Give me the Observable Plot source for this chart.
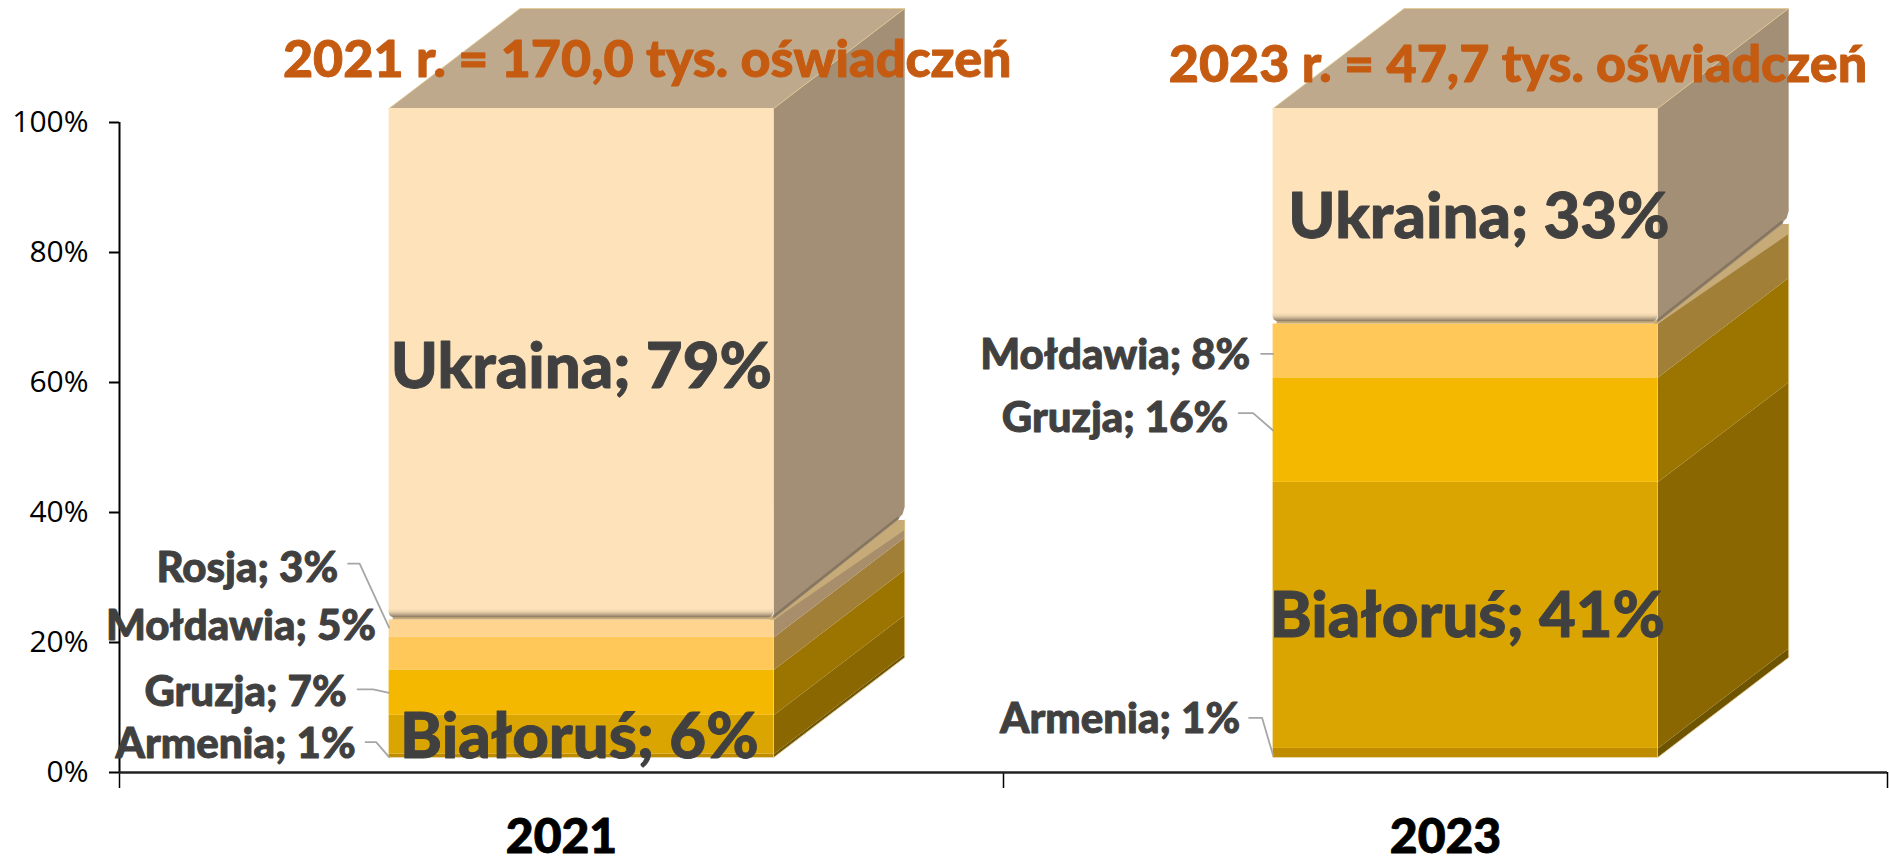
<!DOCTYPE html>
<html><head><meta charset="utf-8">
<style>html,body{margin:0;padding:0;background:#fff;overflow:hidden}svg{display:block}</style>
<script src="https://cdn.jsdelivr.net/npm/d3@7"></script>
<script src="https://cdn.jsdelivr.net/npm/@observablehq/plot@0.6"></script>
</head><body><div id="chart"></div>
<script>
// ---- data ----
const years = ["2021", "2023"];
const totals = ["170,0", "47,7"];
const countries = ["Armenia", "Białoruś", "Gruzja", "Mołdawia", "Rosja", "Ukraina"];
const values2021 = [0.5, 6, 7, 5, 2.7, 78.8];
const values2023 = [1.4, 41, 16.1, 8.3, 0, 33.2];
const yTicks = [0, 20, 40, 60, 80, 100];

// ---- styles ----
const frontColors = ["#BF8C00", "#DAA500", "#F4B800", "#FFC859", "#FFD48E", "#FDE2BA"];
const sideColors = ["#6F5400", "#8A6700", "#9C7500", "#A27F37", "#A88E6A", "#A28F75"];
const topColor = "#BFA98C", capColor = "#C6AA78", edgeColor = "#E2C98F";
const labelFont = "Lato", bigSize = 63.5, smallSize = 42;

// ---- layout (data units of the two scales) ----
const pxX = 884, pxY = 6.5;            // pixels per data unit
const L = 0.305, R = 0.74, DX = 131 / pxX, DY = 100 / pxY;
const floor = 15 / pxY, k = 649 / 650, gap = 0.35;
const v3 = c => floor + c * k;

// label offsets in pixels from the box (left edge / centre) and segment middle
const labelPlace = {
  "2021|Armenia": {dx: -33.5, dy: -11.5}, "2021|Białoruś": {dx: -2, dy: 3, big: 1},
  "2021|Gruzja": {dx: -42.5, dy: 0.2}, "2021|Mołdawia": {dx: -13, dy: -27},
  "2021|Rosja": {dx: -51, dy: -60}, "2021|Ukraina": {dx: 0, dy: 3.8, big: 1},
  "2023|Armenia": {dx: -33, dy: -33}, "2023|Białoruś": {dx: 2, dy: 1.6, big: 1},
  "2023|Gruzja": {dx: -44.8, dy: -12}, "2023|Mołdawia": {dx: -22.8, dy: 5},
  "2023|Ukraina": {dx: 13.6, dy: 1.5, big: 1}
};
const leaderPlace = {
  "2021|Rosja": [[-41, -65], [-29.5, -65], [0, -1]],
  "2021|Gruzja": [[-31.5, -3.3], [-16, -3.3], [0, 0.3]],
  "2021|Armenia": [[-23.5, -13.7], [-13, -13.7], [0, 1.3]],
  "2023|Mołdawia": [[-12, 3], [0, 3]],
  "2023|Gruzja": [[-34.4, -17], [-20, -17], [0, 0.4]],
  "2023|Armenia": [[-24, -35], [-11, -35], [0, 2.5]]
};
const titlePlace = [{x: 0.597, y: 109.5}, {x: 0.582, y: 108.8}];

// ---- derived tables ----
const series = [values2021, values2023];
const segments = [];
series.forEach((vals, i) => {
  let c = 0;
  vals.forEach((v, j) => {
    if (v > 0) segments.push({i, year: years[i], name: countries[j], v, lo: c, hi: c + v, j, key: years[i] + "|" + countries[j]});
    c += v;
  });
});
const polys = [], frontRects = [], bevels = [], outlines = [];
function poly(id, fill, pts) { pts.forEach(([x, y]) => polys.push({id, fill, x, y})); }
series.forEach((vals, i) => {
  const segs = segments.filter(s => s.i === i);
  const lower = segs.filter(s => s.name !== "Ukraina");
  const up = segs.find(s => s.name === "Ukraina");
  lower.forEach(s => {
    const a = v3(s.lo), b = v3(s.hi);
    poly(s.key + "side", sideColors[s.j], [[i + R, a], [i + R + DX, a + DY], [i + R + DX, b + DY], [i + R, b]]);
    frontRects.push({x1: i + L, x2: i + R, y1: a, y2: b, fill: frontColors[s.j]});
  });
  const t = v3(up.lo), top = v3(100), b = t + gap;
  const cx = i + R + DX - 7 / pxX, cy = t + DY;
  poly(i + "cap", capColor, [[i + R - 5 / pxX, t], [i + R, t + gap], [cx, cy], [i + R + DX, cy], [i + R + DX, cy - 10 / pxY], [i + R, t]]);
  poly(i + "uside", sideColors[5], [[i + R, top], [i + R + DX, top + DY], [i + R + DX, cy + 13 / pxY],
    [i + R + DX - 2 / pxX, cy + 6 / pxY], [cx, cy + 0.5 / pxY], [i + R, b]]);
  poly(i + "utop", topColor, [[i + L, top], [i + R, top], [i + R + DX, top + DY], [i + L + DX, top + DY]]);
  frontRects.push({x1: i + L + 4 / pxX, x2: i + R, y1: t, y2: b + 1 / pxY, fill: capColor});
  frontRects.push({x1: i + L, x2: i + R, y1: b + 6 / pxY, y2: top, fill: frontColors[5]});
  bevels.push({x1: i + L, x2: i + R, y1: b, y2: b + 12 / pxY});
  outlines.push({id: i + "s", x: i + R, y: b + 1 / pxY}, {id: i + "s", x: cx, y: cy + 1.5 / pxY});
});
const edges = [];
series.forEach((vals, i) => {
  const t = v3(segments.find(s => s.i === i && s.name === "Ukraina").lo);
  [[L, floor], [R, floor], [R + DX, floor + DY], [R + DX, t + DY]].forEach(([x, y]) => edges.push({id: "b" + i, x: i + x, y}));
  const top = v3(100);
  [[L, top], [R, top], [R + DX, top + DY], [L + DX, top + DY], [L, top]].forEach(([x, y]) => edges.push({id: "t" + i, x: i + x, y}));
});
const labels = segments.map(s => {
  const p = labelPlace[s.key], mid = v3((s.lo + s.hi) / 2);
  const base = p.big ? (L + R) / 2 : L;
  return {x: s.i + base + p.dx / pxX, y: mid - p.dy / pxY, big: !!p.big, text: `${s.name}; ${Math.round(s.v)}%`};
});
const leaders = [];
segments.forEach(s => {
  (leaderPlace[s.key] || []).forEach(([dx, dy]) => leaders.push({id: s.key, x: s.i + L + dx / pxX, y: v3((s.lo + s.hi) / 2) - dy / pxY}));
});
const titles = years.map((y, i) => ({x: i + titlePlace[i].x, y: titlePlace[i].y, text: `${y} r. = ${totals[i]} tys. oświadczeń`}));

const defs = () => {
  const d = d3.create("svg:defs");
  const g = d.append("linearGradient").attr("id", "bevel").attr("x1", 0).attr("y1", 0).attr("x2", 0).attr("y2", 1);
  [[0, "#FDE2BA"], [0.3, "#FDE2BA"], [0.55, "#EBD2AC"], [0.78, "#BCA78A"], [1, "#87765F"]].forEach(([o, c]) =>
    g.append("stop").attr("offset", o).attr("stop-color", c));
  return d.node();
};
const heavy = c => ({fontWeight: 900, fontFamily: labelFont, fill: c, stroke: c, strokeWidth: 0.9});

const chart = Plot.plot({
  width: 1889, height: 862,
  marginLeft: 119, marginRight: 2, marginTop: 122, marginBottom: 90,
  x: {domain: [0, 2]},
  y: {domain: [0, 100]},
  style: {background: "#fff", fontFamily: "'Open Sans'"},
  marks: [
    defs,
    Plot.axisY({ticks: yTicks, tickSize: 10, tickPadding: 21, tickFormat: d => d + "%", fontSize: 30, fontFamily: "'Open Sans'", color: "#000", label: null, strokeWidth: 2, strokeOpacity: 1, textStroke: "none"}),
    Plot.axisX({ticks: [0, 1, 2], tickSize: 16, tickFormat: () => "", label: null, strokeOpacity: 1, strokeWidth: 1.5}),
    Plot.ruleX([0], {y1: 0, y2: 100, stroke: "#000", strokeWidth: 2}),
    Plot.ruleY([0], {stroke: "#222", strokeWidth: 2.5}),
    Plot.text(years, {x: (d, i) => i + 0.5, y: 0, dy: 65, text: d => d, fontSize: 48, ...heavy("#000")}),
    Plot.line(polys, {x: "x", y: "y", z: "id", fill: "fill", stroke: "none"}),
    Plot.line(edges, {x: "x", y: "y", z: "id", stroke: edgeColor, strokeWidth: 1, strokeOpacity: 0.8}),
    Plot.line(outlines, {x: "x", y: "y", z: "id", stroke: "#7C6C58", strokeWidth: 3, strokeOpacity: 0.75}),
    Plot.rect(frontRects, {x1: "x1", x2: "x2", y1: "y1", y2: "y2", fill: "fill"}),
    Plot.rect(bevels, {x1: "x1", x2: "x2", y1: "y1", y2: "y2", fill: "url(#bevel)", rx: 5}),
    Plot.line(leaders, {x: "x", y: "y", z: "id", stroke: "#A6A6A6", strokeWidth: 1.8}),
    Plot.text(labels.filter(d => d.big), {x: "x", y: "y", text: "text", fontSize: bigSize, ...heavy("#404040")}),
    Plot.text(labels.filter(d => !d.big), {x: "x", y: "y", text: "text", textAnchor: "end", fontSize: smallSize, ...heavy("#404040")}),
    Plot.text(titles, {x: "x", y: "y", text: "text", fontSize: 52, ...heavy("#C55A11")})
  ]
});
document.getElementById("chart").appendChild(chart);
</script></body></html>
